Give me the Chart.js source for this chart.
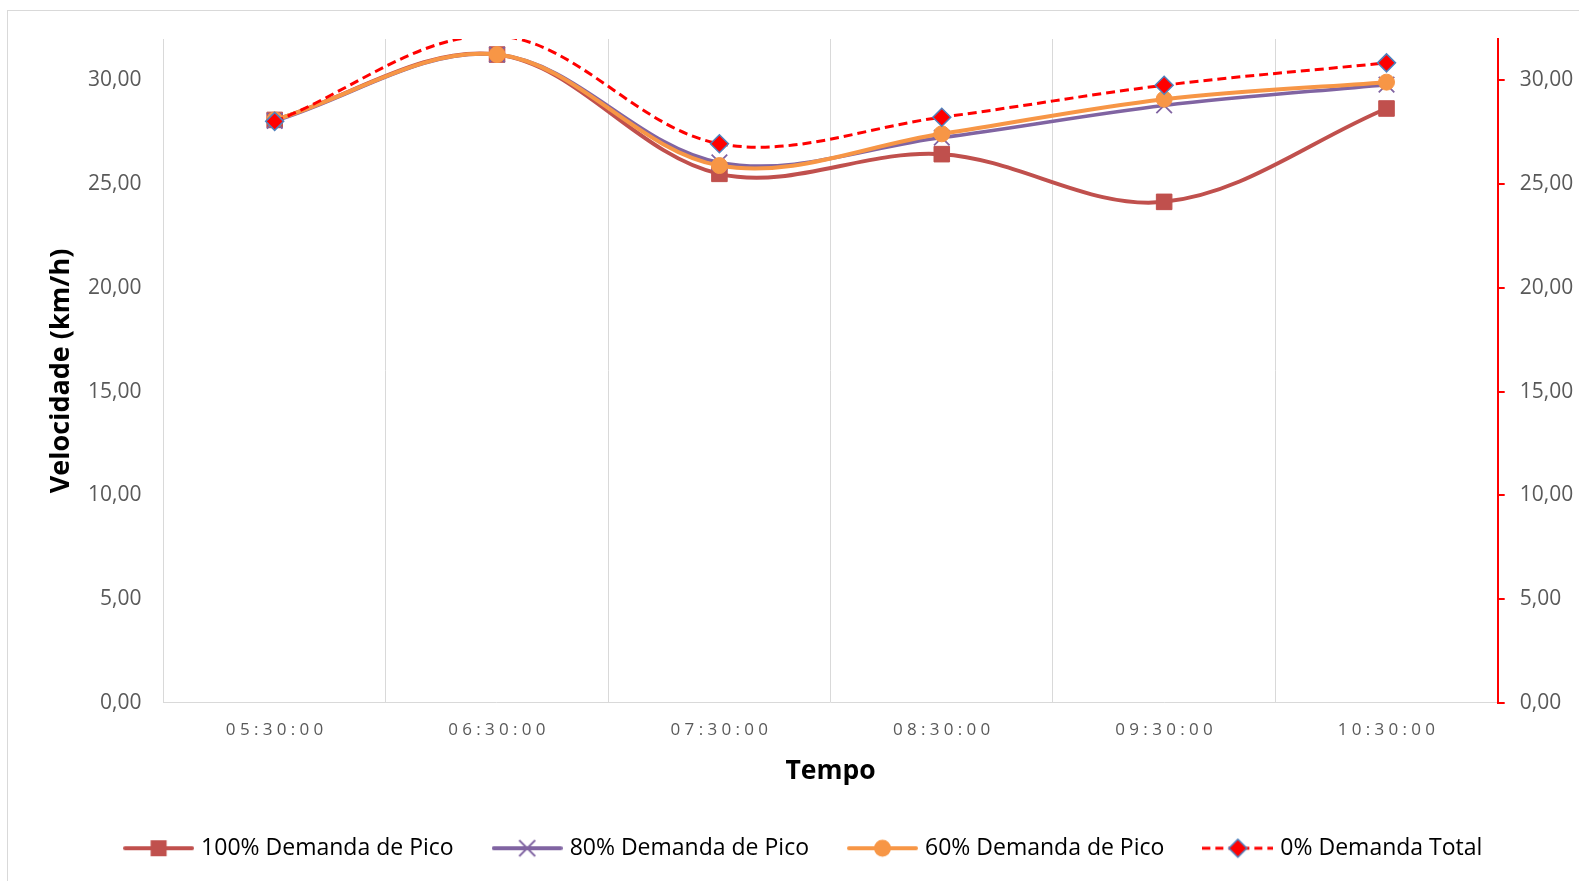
<!DOCTYPE html>
<html>
<head>
<meta charset="utf-8">
<script src="https://cdn.jsdelivr.net/npm/chart.js@4.4.1/dist/chart.umd.min.js"></script>
<style>
  html, body { margin: 0; padding: 0; background: #fff; overflow: hidden; }
  #wrap { position: relative; width: 1579px; height: 881px; overflow: hidden; }
  #frame { position: absolute; left: 7px; top: 10px; width: 1620px; height: 920px; border: 1.5px solid #d9d9d9; box-sizing: border-box; pointer-events: none; }
  canvas { position: absolute; left: 0; top: 0; }
</style>
</head>
<body>
<div id="wrap">
  <div id="frame"></div>
  <canvas id="c" width="1579" height="940"></canvas>
</div>
<script>
// ---- data ----
const categories = ['05:30:00', '06:30:00', '07:30:00', '08:30:00', '09:30:00', '10:30:00'];
const seriesNames = ['100% Demanda de Pico', '80% Demanda de Pico', '60% Demanda de Pico', '0% Demanda Total'];
const demanda100 = [28.10, 31.25, 25.50, 26.45, 24.15, 28.65];
const demanda80  = [28.05, 31.25, 26.05, 27.25, 28.80, 29.80];
const demanda60  = [28.10, 31.25, 25.90, 27.43, 29.10, 29.92];
const demanda0   = [28.03, 32.15, 26.95, 28.23, 29.77, 30.85];
const yTicks = [0, 5, 10, 15, 20, 25, 30];
const yMin = 0, yMax = 32;

// ---- styles ----
const C100 = '#C0504D', C80 = '#8064A2', C60 = '#F79646', C0 = '#FF0000', C0b = '#4F81BD';
const ICON_W = 71, BOX_W = 62;

function legendIcon(kind) {
  const cv = document.createElement('canvas');
  cv.width = ICON_W; cv.height = 26;
  const g = cv.getContext('2d');
  const cy = 13, cx = ICON_W / 2;
  g.lineCap = 'round';
  if (kind === 'sq') {
    g.strokeStyle = C100; g.lineWidth = 4;
    g.beginPath(); g.moveTo(2, cy); g.lineTo(ICON_W - 2, cy); g.stroke();
    g.fillStyle = C100; g.fillRect(cx - 8, cy - 8, 16, 16);
  } else if (kind === 'x') {
    g.strokeStyle = C80; g.lineWidth = 4;
    g.beginPath(); g.moveTo(2, cy); g.lineTo(ICON_W - 2, cy); g.stroke();
    g.lineWidth = 1.8; g.lineCap = 'butt';
    g.beginPath(); g.moveTo(cx - 8, cy - 8); g.lineTo(cx + 8, cy + 8);
    g.moveTo(cx + 8, cy - 8); g.lineTo(cx - 8, cy + 8); g.stroke();
  } else if (kind === 'o') {
    g.strokeStyle = C60; g.lineWidth = 4;
    g.beginPath(); g.moveTo(2, cy); g.lineTo(ICON_W - 2, cy); g.stroke();
    g.fillStyle = C60; g.beginPath(); g.arc(cx, cy, 8.5, 0, Math.PI * 2); g.fill();
  } else {
    g.strokeStyle = C0; g.lineWidth = 3; g.lineCap = 'butt';
    g.setLineDash([8, 5]);
    g.beginPath(); g.moveTo(0, cy); g.lineTo(ICON_W, cy); g.stroke();
    g.setLineDash([]);
    g.fillStyle = C0; g.strokeStyle = C0b; g.lineWidth = 1.5;
    g.beginPath(); g.moveTo(cx, cy - 9); g.lineTo(cx + 9, cy); g.lineTo(cx, cy + 9); g.lineTo(cx - 9, cy); g.closePath();
    g.fill(); g.stroke();
  }
  return cv;
}
const icons = [legendIcon('sq'), legendIcon('x'), legendIcon('o'), legendIcon('d')];

const fmt = v => v.toFixed(2).replace('.', ',');

const xLabelPlugin = {
  id: 'xLabels',
  afterLayout(chart) {
    // nudge legend slightly left, like the reference
    if (chart.legend) { chart.legend.left -= 5; chart.legend.right -= 5; }
  },
  afterDraw(chart) {
    const s = chart.scales.x;
    const ctx = chart.ctx;
    ctx.save();
    ctx.font = '17px "Open Sans"';
    ctx.fillStyle = '#595959';
    ctx.letterSpacing = '4.3px';
    ctx.textAlign = 'center';
    ctx.textBaseline = 'middle';
    s.ticks.forEach((t, i) => {
      ctx.fillText(categories[i], s.getPixelForTick(i) + 2, s.top + 27);
    });
    ctx.restore();
  }
};

// markers of points outside the axis range are not drawn (as in the original)
const inRange = (c, r) => (c.raw > yMax ? 0 : r);

new Chart(document.getElementById('c'), {
  type: 'line',
  data: {
    labels: categories,
    datasets: [
      { label: seriesNames[0], data: demanda100, order: 3, borderColor: C100, backgroundColor: C100,
        borderWidth: 4, pointStyle: 'rect', pointRadius: 11, pointHoverRadius: 11, pointBorderWidth: 1,
        pointBackgroundColor: C100, pointBorderColor: C100 },
      { label: seriesNames[1], data: demanda80, order: 2, borderColor: C80, backgroundColor: C80,
        borderWidth: 3.5, pointStyle: 'crossRot', pointRadius: 11, pointHoverRadius: 11, pointBorderWidth: 1.8,
        pointBorderColor: C80 },
      { label: seriesNames[2], data: demanda60, order: 1, borderColor: C60, backgroundColor: C60,
        borderWidth: 4, pointStyle: 'circle', pointRadius: 8, pointHoverRadius: 8, pointBorderWidth: 1,
        pointBackgroundColor: C60, pointBorderColor: C60 },
      { label: seriesNames[3], data: demanda0, order: 0, borderColor: C0, backgroundColor: C0,
        borderWidth: 3, borderDash: [9, 5], pointStyle: 'rectRot',
        pointRadius: c => inRange(c, 9), pointHoverRadius: c => inRange(c, 9),
        pointBorderWidth: 1.5, pointBackgroundColor: C0, pointBorderColor: C0b, clip: 0 }
    ]
  },
  options: {
    responsive: false,
    animation: false,
    events: [],
    layout: { padding: { left: 41, right: 0, top: 39, bottom: 70.3 } },
    elements: { line: { tension: 0.35, capBezierPoints: false, fill: false } },
    scales: {
      x: {
        offset: true,
        grid: { display: true, offset: true, color: '#d9d9d9', lineWidth: 1, drawTicks: false },
        border: { display: true, color: '#d9d9d9', width: 1 },
        ticks: { display: false },
        title: { display: true, text: 'Tempo', color: '#000', font: { family: 'Open Sans', size: 26.5, weight: 'bold' },
                 padding: { top: 4, bottom: 7 } },
        afterFit: s => { s.height = 91.3; }
      },
      y: {
        position: 'left', min: yMin, max: yMax,
        afterBuildTicks: s => { s.ticks = yTicks.map(v => ({ value: v })); },
        grid: { display: false, drawTicks: false },
        border: { display: true, color: '#d9d9d9', width: 1 },
        ticks: { color: '#595959', font: { family: 'Open Sans', size: 21 }, padding: 22, callback: v => fmt(v) },
        title: { display: true, text: 'Velocidade (km/h)', color: '#000', font: { family: 'Open Sans', size: 27, weight: 'bold' },
                 padding: { top: 4, bottom: 4 } },
        afterFit: s => { s.width = 122.5; }
      },
      y1: {
        position: 'right', min: yMin, max: yMax,
        afterBuildTicks: s => { s.ticks = yTicks.map(v => ({ value: v })); },
        grid: { display: true, drawOnChartArea: false, color: C0, tickColor: C0, tickLength: 7, lineWidth: 2 },
        border: { display: true, color: C0, width: 2 },
        ticks: { color: '#595959', font: { family: 'Open Sans', size: 21 }, padding: 15, callback: v => fmt(v) },
        afterFit: s => { s.width = 81.3; }
      }
    },
    plugins: {
      tooltip: { enabled: false },
      legend: {
        position: 'bottom',
        labels: {
          usePointStyle: true,
          pointStyleWidth: BOX_W,
          padding: 42.5,
          color: '#000',
          font: { family: 'Open Sans', size: 23 },
          generateLabels: chart => chart.data.datasets.map((ds, i) => ({
            text: ds.label, pointStyle: icons[i], fontColor: '#000', hidden: false,
            datasetIndex: i, lineWidth: 0, strokeStyle: 'transparent', fillStyle: 'transparent'
          }))
        }
      }
    }
  },
  plugins: [xLabelPlugin]
});
</script>
</body>
</html>
